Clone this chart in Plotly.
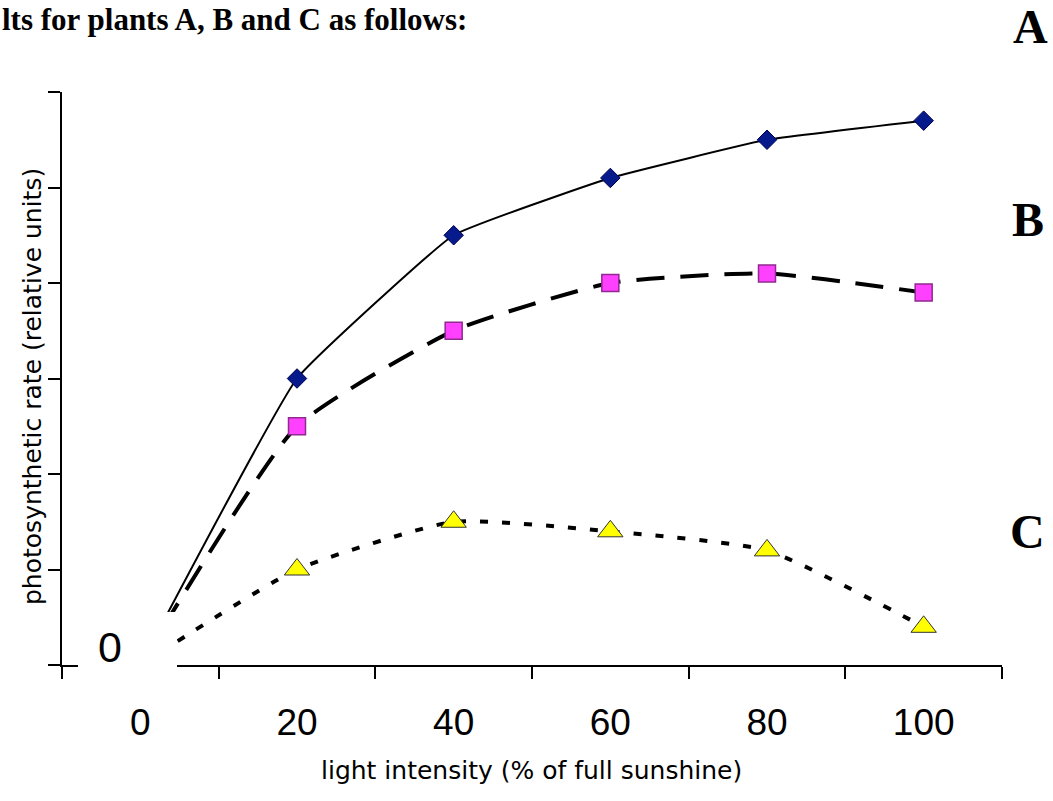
import plotly.graph_objects as go

# Light intensity categories (% of full sunshine)
light = ["0", "20", "40", "60", "80", "100"]

# Photosynthetic rate (relative units) for each plant
plant_a = [0, 3.0, 4.5, 5.1, 5.5, 5.7]
plant_b = [0, 2.5, 3.5, 4.0, 4.1, 3.9]
plant_c = [0, 1.0, 1.5, 1.4, 1.2, 0.4]

y_ticks = [0, 1, 2, 3, 4, 5, 6]

# Canvas and plot-area geometry (pixels)
W, H = 1053, 801
L, R, T, B = 62, 51, 92, 136
PW = W - L - R
PH = H - T - B


def px(x):
    return (x - L) / PW


def py(y):
    return (H - B - y) / PH


SANS = "Liberation Sans, Arial, sans-serif"
SERIF = "Liberation Serif, Times New Roman, serif"

fig = go.Figure()

fig.add_trace(go.Scatter(
    x=light, y=plant_a, name="A", mode="lines+markers",
    line=dict(color="black", width=2, shape="spline", smoothing=0.3),
    marker=dict(symbol="diamond", size=15, color="#061a8c",
                line=dict(color="#000050", width=1)),
))
fig.add_trace(go.Scatter(
    x=light, y=plant_b, name="B", mode="lines+markers",
    line=dict(color="black", width=4, dash="28px,16px", shape="spline", smoothing=0.5),
    marker=dict(symbol="square", size=17, color="#ff40ff",
                line=dict(color="#8f2a8f", width=1.5)),
))
fig.add_trace(go.Scatter(
    x=light, y=plant_c, name="C", mode="lines+markers",
    line=dict(color="black", width=4, dash="8px,14px", shape="spline", smoothing=0.5),
    marker=dict(symbol="triangle-up", size=22, color="#ffff00",
                line=dict(color="#333333", width=1)),
))

fig.update_layout(
    width=W, height=H,
    margin=dict(l=L, r=R, t=T, b=B, autoexpand=False),
    paper_bgcolor="white", plot_bgcolor="white",
    showlegend=False,
    xaxis=dict(
        type="category", range=[-0.5, 5.5],
        tickson="boundaries", ticks="outside", ticklen=12, tickwidth=1.5,
        tickcolor="black", showline=True, linecolor="black", linewidth=1.5,
        showgrid=False, zeroline=False,
        tickfont=dict(family=SANS, size=37, color="black"),
        ticklabelstandoff=24,
    ),
    yaxis=dict(
        range=[0, 6], tickvals=y_ticks, showticklabels=False,
        ticks="outside", ticklen=12, tickwidth=1.5, tickcolor="black",
        showline=True, linecolor="black", linewidth=1.5,
        showgrid=False, zeroline=False,
    ),
    shapes=[
        # white label box around the origin "0"
        dict(type="rect", xref="paper", yref="paper",
             x0=px(78), x1=px(177), y0=py(669), y1=py(612),
             fillcolor="white", line=dict(width=0), layer="above"),
    ],
    annotations=[
        dict(text="lts for plants A, B and C as follows:", xref="paper", yref="paper",
             x=px(0), y=py(0), xanchor="left", yanchor="top", showarrow=False,
             font=dict(family=SERIF, size=31, color="black", weight="bold")),
        dict(text="A", xref="paper", yref="paper", x=px(1030), y=py(27),
             xanchor="center", yanchor="middle", showarrow=False,
             font=dict(family=SERIF, size=48, color="black", weight="bold")),
        dict(text="B", xref="paper", yref="paper", x=px(1028), y=py(219),
             xanchor="center", yanchor="middle", showarrow=False,
             font=dict(family=SERIF, size=48, color="black", weight="bold")),
        dict(text="C", xref="paper", yref="paper", x=px(1027), y=py(531),
             xanchor="center", yanchor="middle", showarrow=False,
             font=dict(family=SERIF, size=48, color="black", weight="bold")),
        dict(text="0", xref="paper", yref="paper", x=px(110), y=py(647),
             xanchor="center", yanchor="middle", showarrow=False,
             font=dict(family=SANS, size=43, color="black")),
        dict(text="light intensity (% of full sunshine)", xref="paper", yref="paper",
             x=px(531), y=py(770), xanchor="center", yanchor="middle", showarrow=False,
             font=dict(family="DejaVu Sans, sans-serif", size=25, color="black")),
        dict(text="photosynthetic rate (relative units)", xref="paper", yref="paper",
             x=px(32), y=py(387), xanchor="center", yanchor="middle", showarrow=False,
             textangle=-90,
             font=dict(family="DejaVu Sans, sans-serif", size=25, color="black")),
    ],
)

fig.write_html("out.html")
